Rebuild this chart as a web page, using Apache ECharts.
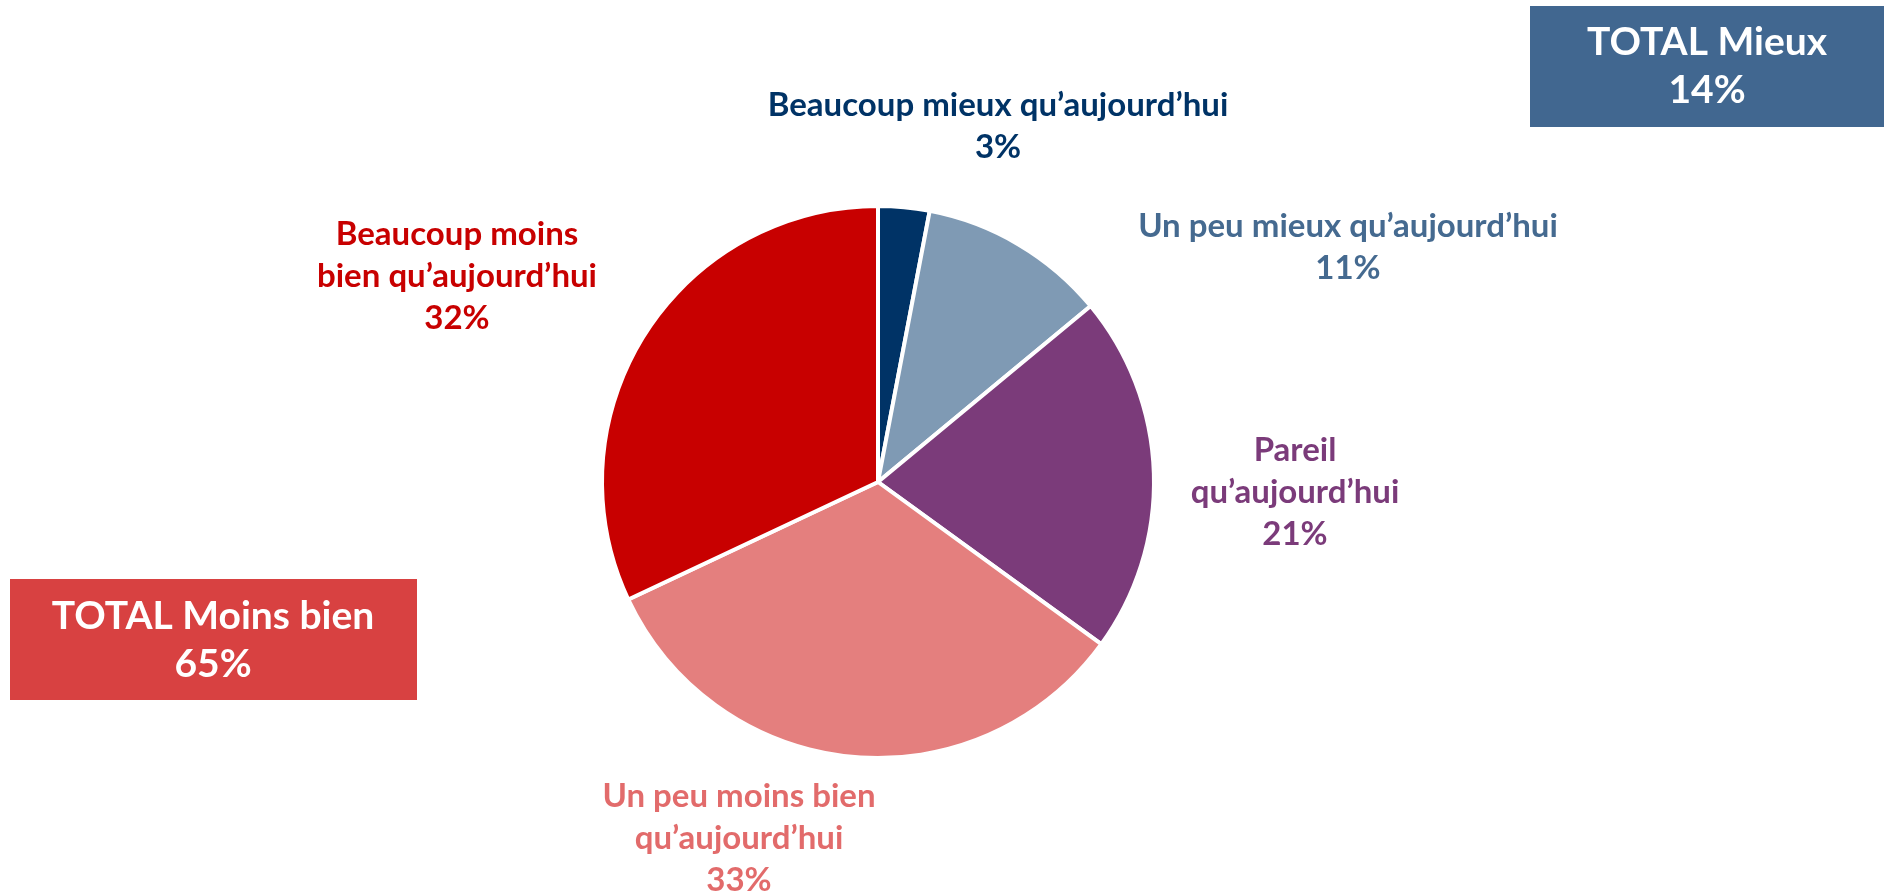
<!DOCTYPE html>
<html>
<head>
<meta charset="utf-8">
<script src="https://cdn.jsdelivr.net/npm/echarts@6/dist/echarts.min.js"></script>
<style>
  html, body { margin: 0; padding: 0; background: #fff; }
  #chart { width: 1894px; height: 894px; }
</style>
</head>
<body>
<div id="chart"></div>
<script>
// données
var categories = ['Beaucoup mieux qu’aujourd’hui', 'Un peu mieux qu’aujourd’hui', 'Pareil qu’aujourd’hui', 'Un peu moins bien qu’aujourd’hui', 'Beaucoup moins bien qu’aujourd’hui']
var labelLines = [
  ['Beaucoup mieux qu’aujourd’hui'],
  ['Un peu mieux qu’aujourd’hui'],
  ['Pareil', 'qu’aujourd’hui'],
  ['Un peu moins bien', 'qu’aujourd’hui'],
  ['Beaucoup moins', 'bien qu’aujourd’hui']
]
var values = [3, 11, 21, 33, 32]
var totalMieux = 14
var totalMoinsBien = 65

// styles
var sliceColors = ['#003366', '#7F9AB4', '#7B3B7A', '#E47F7E', '#C80000']
var labelColors = ['#003366', '#456A90', '#7B3B7A', '#E26B6B', '#C80000']
var labelPos = [[998, 126], [1348, 247], [1295, 492], [739, 838], [457, 276]]
var font = 'Lato, "Open Sans", sans-serif'

var myChart = echarts.init(document.getElementById('chart'))

var option = {
  animation: false,
  series: [{
    type: 'pie',
    center: [878, 482],
    radius: 276,
    startAngle: 90,
    clockwise: true,
    data: categories.map(function (c, i) {
      return {
        name: c,
        value: values[i],
        itemStyle: { color: sliceColors[i] },
        label: { color: labelColors[i] }
      }
    }),
    itemStyle: { borderColor: '#fff', borderWidth: 4 },
    labelLine: { show: false },
    label: {
      show: true,
      position: 'outside',
      fontFamily: font,
      fontWeight: 'bold',
      fontSize: 33,
      lineHeight: 42,
      align: 'center',
      formatter: function (p) {
        return labelLines[p.dataIndex].join('\n') + '\n' + p.value + '%'
      }
    },
    labelLayout: function (p) {
      var pos = labelPos[p.dataIndex]
      return { x: pos[0], y: pos[1], align: 'center', verticalAlign: 'middle', hideOverlap: false }
    }
  }],
  graphic: [
    {
      type: 'rect',
      shape: { x: 1530, y: 6, width: 354, height: 121 },
      style: { fill: '#416790' }
    },
    {
      type: 'text',
      x: 1707, y: 66,
      style: {
        text: 'TOTAL Mieux\n' + totalMieux + '%',
        fill: '#fff',
        font: 'bold 39px ' + font,
        lineHeight: 48,
        align: 'center',
        verticalAlign: 'middle'
      }
    },
    {
      type: 'rect',
      shape: { x: 10, y: 579, width: 407, height: 121 },
      style: { fill: '#D84141' }
    },
    {
      type: 'text',
      x: 213, y: 640,
      style: {
        text: 'TOTAL Moins bien\n' + totalMoinsBien + '%',
        fill: '#fff',
        font: 'bold 39px ' + font,
        lineHeight: 48,
        align: 'center',
        verticalAlign: 'middle'
      }
    }
  ]
}

myChart.setOption(option)
</script>
</body>
</html>
